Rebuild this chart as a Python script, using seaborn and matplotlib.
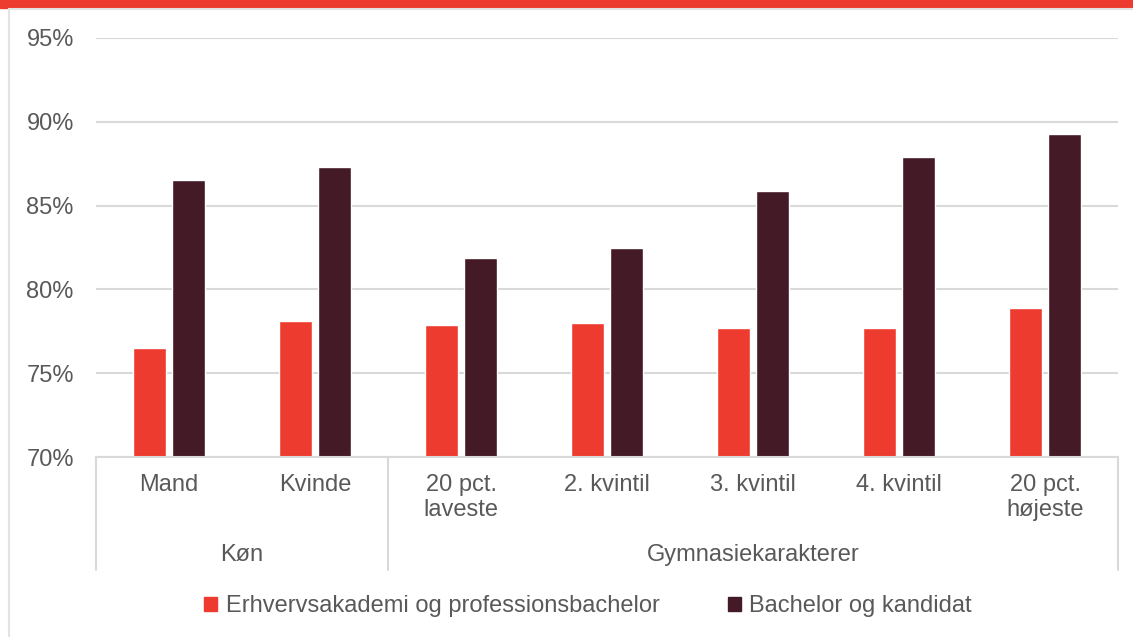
import numpy as np
import pandas as pd
import matplotlib
matplotlib.use("Agg")
import matplotlib.pyplot as plt
import matplotlib.patches as mpatches
import seaborn as sns

# ================= DATA =================
categories = ["Mand", "Kvinde", "20 pct.\nlaveste", "2. kvintil", "3. kvintil",
              "4. kvintil", "20 pct.\nhøjeste"]
groups = ["Køn", "Gymnasiekarakterer"]
group_spans = [(0, 1), (2, 6)]
series = ["Erhvervsakademi og professionsbachelor", "Bachelor og kandidat"]
erhverv = [76.5, 78.1, 77.9, 78.0, 77.7, 77.7, 78.9]
bachelor = [86.5, 87.3, 81.9, 82.5, 85.9, 87.9, 89.3]
yticks = [70, 75, 80, 85, 90, 95]

RED = "#EE3B2F"
DARK = "#431A25"
GREY_TXT = "#595959"
GRID = "#D9D9D9"
FS = 17

df = pd.DataFrame({
    "kategori": categories * 2,
    "serie": [series[0]] * len(categories) + [series[1]] * len(categories),
    "andel": erhverv + bachelor,
})

sns.set_style("white")
plt.rcParams["font.family"] = ["Liberation Sans", "DejaVu Sans"]

W, H = 1133, 637
fig = plt.figure(figsize=(W / 100, H / 100), dpi=100)

# top red band and light frame
fig.patches.append(mpatches.Rectangle((0, 1 - 8 / H), 1, 8 / H, transform=fig.transFigure,
                                      color=RED, zorder=0))
fig.patches.append(mpatches.Rectangle((9 / W, -0.1), 1.2, 1 - 9 / H + 0.1, transform=fig.transFigure,
                                      fill=False, edgecolor="#E3E3E3", lw=1.5, zorder=0))

left, right, bottom, top = 96, 1118, 457, 38
ax = fig.add_axes([left / W, (H - bottom) / H, (right - left) / W, (bottom - top) / H])

sns.barplot(data=df, x="kategori", y="andel", hue="serie", order=categories,
            hue_order=series, palette=[RED, DARK], width=0.53, gap=0.14,
            saturation=1, legend=False, ax=ax)

ax.set_ylim(70, 95)
ax.set_xlim(-0.5, len(categories) - 0.5)
ax.set_yticks(yticks)
ax.set_yticklabels([f"{v}%" for v in yticks], color=GREY_TXT, fontsize=FS)
ax.yaxis.grid(True, color=GRID, lw=1.5)
ax.set_axisbelow(True)
ax.tick_params(axis="y", length=0, pad=16)
ax.tick_params(axis="x", length=0, pad=12, labelsize=FS, labelcolor=GREY_TXT)
ax.set_xlabel("")
ax.set_ylabel("")
for s in ["top", "right", "left"]:
    ax.spines[s].set_visible(False)
ax.spines["bottom"].set_color(GRID)
ax.spines["bottom"].set_linewidth(1.5)

# group separators and labels
trans = ax.get_xaxis_transform()
sep_len = (570 - bottom) / (bottom - top)
for x in [-0.5, 1.5, len(categories) - 0.5]:
    ax.plot([x, x], [0, -sep_len], transform=trans, color=GRID, lw=1.5, clip_on=False)
for name, (a, b) in zip(groups, group_spans):
    ax.text((a + b) / 2, -(555 - bottom) / (bottom - top), name, transform=trans,
            ha="center", va="center", fontsize=FS, color=GREY_TXT)

handles = [mpatches.Patch(color=c, label=l) for c, l in zip([RED, DARK], series)]
leg = fig.legend(handles=handles, loc="center", bbox_to_anchor=(588 / W, 1 - 606 / H),
                 ncol=2, frameon=False, fontsize=FS, handlelength=0.55, handleheight=0.55,
                 handletextpad=0.35, columnspacing=2.9)
for t in leg.get_texts():
    t.set_color(GREY_TXT)

fig.savefig("out.png", dpi=100)
